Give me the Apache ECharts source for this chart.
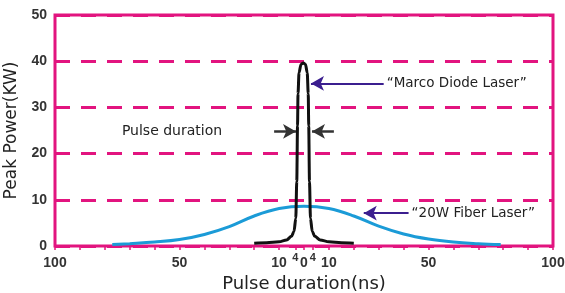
<!DOCTYPE html>
<html>
<head>
<meta charset="utf-8">
<script src="https://cdn.jsdelivr.net/npm/echarts@6/dist/echarts.min.js"></script>
<style>html,body{margin:0;padding:0;background:#fff}#c{width:565px;height:293px}</style>
</head>
<body>
<div id="c"></div>
<script>
// Data
const fiberLaser = [[-77,0.3],[-70,0.5],[-60,0.85],[-50,1.4],[-40,2.5],[-30,4.2],[-20,6.5],[-10,8.1],[0,8.6],[10,8.1],[20,6.5],[30,4.3],[40,2.6],[50,1.5],[60,0.85],[70,0.5],[79,0.3]];
const diodeLaser = [[-20,0.6],[-15,0.7],[-10,0.9],[-7,1.3],[-5,2.1],[-4,3.2],[-3.3,6],[-2.9,14],[-2.6,26],[-2.4,33],[-2,37.5],[-1.2,39.3],[-0.3,39.6],[0.6,39.3],[1.3,37.5],[1.7,33],[1.9,26],[2.2,14],[2.6,6],[3.3,3.2],[4.3,2.1],[6.5,1.3],[10,0.9],[15,0.7],[20,0.6]];
const yTicks = [0,10,20,30,40,50];
const xLabelValues = [-100,-50,-10,0,10,50,100];
const xSupValues = [-3.5,3.5];
const xTickValues = [-100,-90,-80,-70,-60,-50,-40,-30,-20,-10,-3.5,0,3.5,10,20,30,40,50,60,70,80,90,100];

const MAG = '#e2147f';
const PURPLE = '#3b1e8f';
const chart = echarts.init(document.getElementById('c'));
chart.setOption({
  animation: false,
  grid: {left: 55, right: 12, top: 15, bottom: 47, outerBoundsMode: 'none', containLabel: false, show: true, borderColor: MAG, borderWidth: 3, backgroundColor: 'transparent'},
  xAxis: [{
    type: 'value', min: -100, max: 100, position: 'bottom',
    name: 'Pulse duration(ns)', nameLocation: 'middle', nameGap: 28,
    nameTextStyle: {fontFamily: 'DejaVu Sans', fontSize: 18, color: '#222'},
    axisLine: {show: false},
    splitLine: {show: false},
    axisTick: {show: true, customValues: xTickValues, length: 4, lineStyle: {color: MAG, width: 1.5}},
    axisLabel: {
      customValues: xLabelValues, margin: 10,
      fontFamily: 'Liberation Sans', fontSize: 14, fontWeight: 'bold', color: '#333',
      formatter: v => String(Math.abs(v))
    }
  }, {
    type: 'value', min: -100, max: 100, position: 'bottom',
    axisLine: {show: false}, axisTick: {show: false}, splitLine: {show: false},
    axisLabel: {
      customValues: xSupValues, margin: 6,
      fontFamily: 'Liberation Sans', fontSize: 11, fontWeight: 'bold', color: '#333',
      formatter: () => '4'
    }
  }],
  yAxis: {
    type: 'value', min: 0, max: 50, interval: 10,
    name: 'Peak Power(KW)', nameLocation: 'middle', nameGap: 27,
    nameTextStyle: {fontFamily: 'DejaVu Sans', fontSize: 17, color: '#222'},
    axisLine: {show: false}, axisTick: {show: false},
    axisLabel: {margin: 8, fontFamily: 'Liberation Sans', fontSize: 14, fontWeight: 'bold', color: '#333',
      customValues: yTicks},
    splitLine: {show: true, lineStyle: {color: MAG, width: 3, type: [15, 11]}}
  },
  series: [
    {
      type: 'line', data: fiberLaser, smooth: 0.4, showSymbol: false,
      lineStyle: {color: '#1b9bd7', width: 3}, itemStyle: {color: '#1b9bd7'}, z: 2
    },
    {
      type: 'line', data: diodeLaser, smooth: 0.3, smoothMonotone: 'x', showSymbol: false,
      lineStyle: {color: '#111', width: 3}, itemStyle: {color: '#111'}, z: 3,
      markLine: {
        silent: true, symbol: ['none', 'arrow'], symbolSize: [11, 13], animation: false,
        data: [
          [{coord: [32, 35.2], lineStyle: {color: PURPLE, width: 2, type: 'solid'},
            label: {show: true, position: 'start', distance: 3, formatter: '\u201cMarco Diode Laser\u201d', fontFamily: 'DejaVu Sans', fontSize: 13.5, color: '#222'}},
           {coord: [2.8, 35.2]}],
          [{coord: [42, 7.1], lineStyle: {color: PURPLE, width: 2, type: 'solid'},
            label: {show: true, position: 'start', distance: 3, formatter: '\u201c20W Fiber Laser\u201d', fontFamily: 'DejaVu Sans', fontSize: 13.5, color: '#222'}},
           {coord: [24, 7.1]}],
          [{coord: [-12, 24.8], lineStyle: {color: '#333', width: 2.5, type: 'solid'}, symbolSize: [8, 9],
            label: {show: true, position: 'start', distance: 52, formatter: 'Pulse duration', fontFamily: 'DejaVu Sans', fontSize: 14, color: '#222'}},
           {coord: [-3.2, 24.8]}],
          [{coord: [12, 24.8], lineStyle: {color: '#333', width: 2.5, type: 'solid'}, symbolSize: [8, 9], label: {show: false}},
           {coord: [3.2, 24.8]}]
        ]
      }
    }
  ]
});
</script>
</body>
</html>
